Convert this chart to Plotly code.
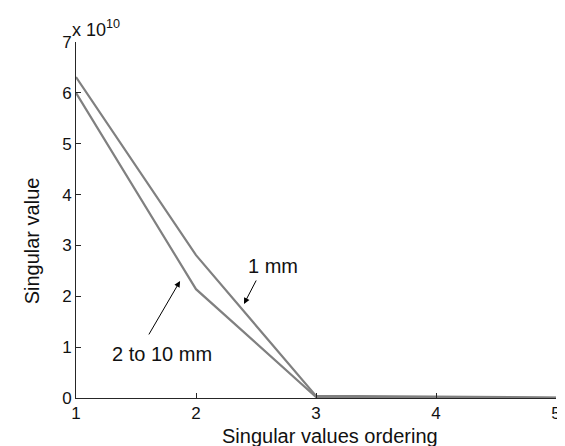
import plotly.graph_objects as go

# Data (singular values in units of 1e10)
order = [1, 2, 3, 4, 5]
sv_1mm = [6.31, 2.81, 0.04, 0.02, 0.01]
sv_2to10mm = [6.00, 2.14, 0.02, 0.01, 0.005]
x_ticks = [1, 2, 3, 4, 5]
y_ticks = [0, 1, 2, 3, 4, 5, 6, 7]

FONT = "Liberation Sans, Arial, Helvetica, sans-serif"
LINE_COLOR = "#808080"
AXIS_COLOR = "#262626"

fig = go.Figure()
for ys in (sv_1mm, sv_2to10mm):
    fig.add_trace(go.Scatter(x=order, y=ys, mode="lines",
                             line=dict(color=LINE_COLOR, width=2.2),
                             showlegend=False, hoverinfo="skip"))

axis_common = dict(showgrid=False, zeroline=False, showline=True,
                   linecolor=AXIS_COLOR, linewidth=1, ticks="inside",
                   ticklen=5, tickcolor=AXIS_COLOR, mirror=False,
                   automargin=False,
                   tickfont=dict(family=FONT, size=17, color="#111"))

fig.update_layout(
    width=565, height=446,
    margin=dict(l=68, r=17, t=34, b=56),
    paper_bgcolor="white", plot_bgcolor="white",
    font=dict(family=FONT, color="#111"),
    xaxis=dict(range=[1, 5], tickvals=x_ticks, **axis_common),
    yaxis=dict(range=[0, 7], tickvals=y_ticks, **axis_common),
)

# axis titles
fig.add_annotation(xref="x", yref="paper", x=3.12, y=0, yanchor="middle",
                   yshift=-38, showarrow=False,
                   text="Singular values ordering",
                   font=dict(family=FONT, size=20))
fig.add_annotation(xref="paper", yref="y", x=0, y=3.08, xanchor="center",
                   xshift=-44, textangle=-90, showarrow=False,
                   text="Singular value",
                   font=dict(family=FONT, size=20))

# exponent label
fig.add_annotation(xref="paper", yref="paper", x=0, y=1.0,
                   xanchor="left", yanchor="bottom", showarrow=False,
                   text="x 10<sup>10</sup>", font=dict(family=FONT, size=18),
                   xshift=-6, yshift=0)

# text labels with arrows
fig.add_annotation(x=2.40, y=1.85, ax=2.508, ay=2.34, axref="x", ayref="y",
                   xref="x", yref="y", text="", showarrow=True,
                   arrowhead=2, arrowsize=1.2, arrowwidth=1, arrowcolor="black")
fig.add_annotation(x=2.64, y=2.60, text="1 mm", showarrow=False,
                   font=dict(family=FONT, size=20))
fig.add_annotation(x=1.867, y=2.30, ax=1.60, ay=1.22, axref="x", ayref="y",
                   xref="x", yref="y", text="", showarrow=True,
                   arrowhead=2, arrowsize=1.2, arrowwidth=1, arrowcolor="black")
fig.add_annotation(x=1.717, y=0.865, text="2 to 10 mm", showarrow=False,
                   font=dict(family=FONT, size=20))

fig.write_html("out.html")
